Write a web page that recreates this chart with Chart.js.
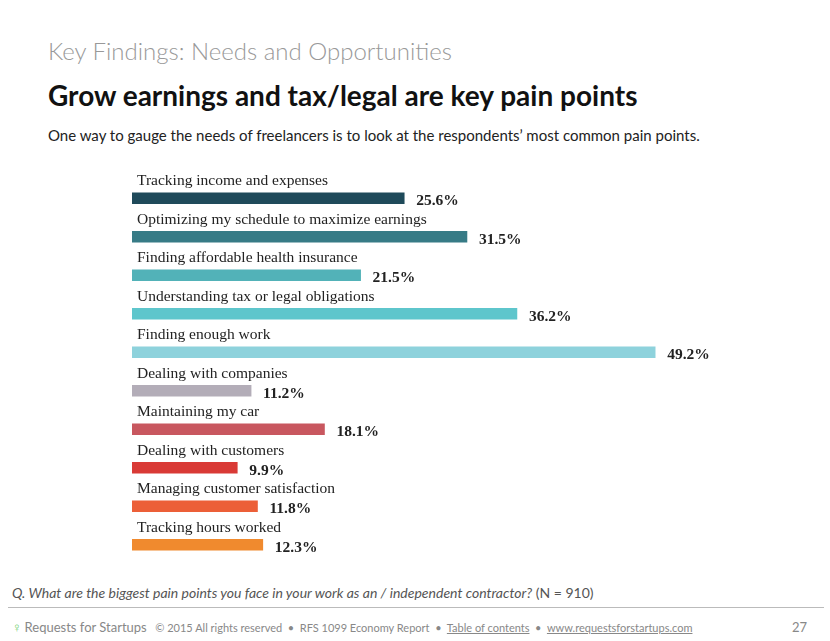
<!DOCTYPE html>
<html><head><meta charset="utf-8">
<script src="https://cdn.jsdelivr.net/npm/chart.js@4"></script>
<style>
body{margin:0;width:830px;height:641px;background:#fff;font-family:Lato,sans-serif;position:relative;overflow:hidden}
.t{position:absolute;white-space:nowrap}
#wrap{position:absolute;left:132px;top:159px;width:638px;height:405px}
</style></head><body>
<div class="t" style="left:48px;top:36px;font-size:24px;color:#999;font-weight:300">Key Findings: Needs and Opportunities</div>
<div class="t" style="left:48px;top:78px;font-size:28px;font-weight:bold;color:#111">Grow earnings and tax/legal are key pain points</div>
<div class="t" style="left:48px;top:126px;font-size:15px;color:#222">One way to gauge the needs of freelancers is to look at the respondents’ most common pain points.</div>
<div id="wrap"><canvas id="c"></canvas></div>
<div class="t" style="left:12px;top:584px;font-size:14px;color:#555"><i>Q. What are the biggest pain points you face in your work as an / independent contractor?</i> (N = 910)</div>
<div style="position:absolute;left:8px;top:607px;width:816px;height:1px;background:#bbb"></div>
<div class="t" style="left:12px;top:619px;font-size:11px;color:#888"><span style="color:#6c6;font-size:13px">♀</span> <span style="font-size:13px">Requests for Startups</span> &nbsp; © 2015 All rights reserved &nbsp;•&nbsp; RFS 1099 Economy Report &nbsp;•&nbsp; <u>Table of contents</u> &nbsp;•&nbsp; <u>www.requestsforstartups.com</u></div>
<div class="t" style="left:792px;top:619px;font-size:13px;color:#888">27</div>
<script>
const categories=["Tracking income and expenses","Optimizing my schedule to maximize earnings","Finding affordable health insurance","Understanding tax or legal obligations","Finding enough work","Dealing with companies","Maintaining my car","Dealing with customers","Managing customer satisfaction","Tracking hours worked"];
const values=[25.6,31.5,21.5,36.2,49.2,11.2,18.1,9.9,11.8,12.3];
const colors=["#1f4a5a","#377b86","#52b2b8","#5ec6cc","#8ed2dc","#b3adb8","#c8575f","#d93a36","#ec5f38","#f08a2e"];
const textPlugin={id:'txt',afterDatasetsDraw(ch){
 const ctx=ch.ctx,meta=ch.getDatasetMeta(0);
 ctx.save();
 meta.data.forEach((b,i)=>{
  ctx.fillStyle='#222';ctx.textBaseline='middle';
  ctx.font='15.5px "Liberation Serif", serif';ctx.textAlign='left';
  ctx.fillText(categories[i],5,b.y-17);
  ctx.font='bold 15.5px "Liberation Serif", serif';
  ctx.fillText(values[i].toFixed(1)+'%',b.x+12,b.y+3);
 });
 ctx.restore();}};
new Chart(document.getElementById('c'),{type:'bar',
 data:{labels:categories,datasets:[{data:values,backgroundColor:colors,barThickness:11}]},
 options:{indexAxis:'y',responsive:true,maintainAspectRatio:false,animation:false,
  layout:{padding:{top:20}},
  plugins:{legend:{display:false},tooltip:{enabled:false}},
  scales:{x:{display:false,min:0,max:60},y:{display:false}}},
 plugins:[textPlugin]});
</script>
</body></html>
